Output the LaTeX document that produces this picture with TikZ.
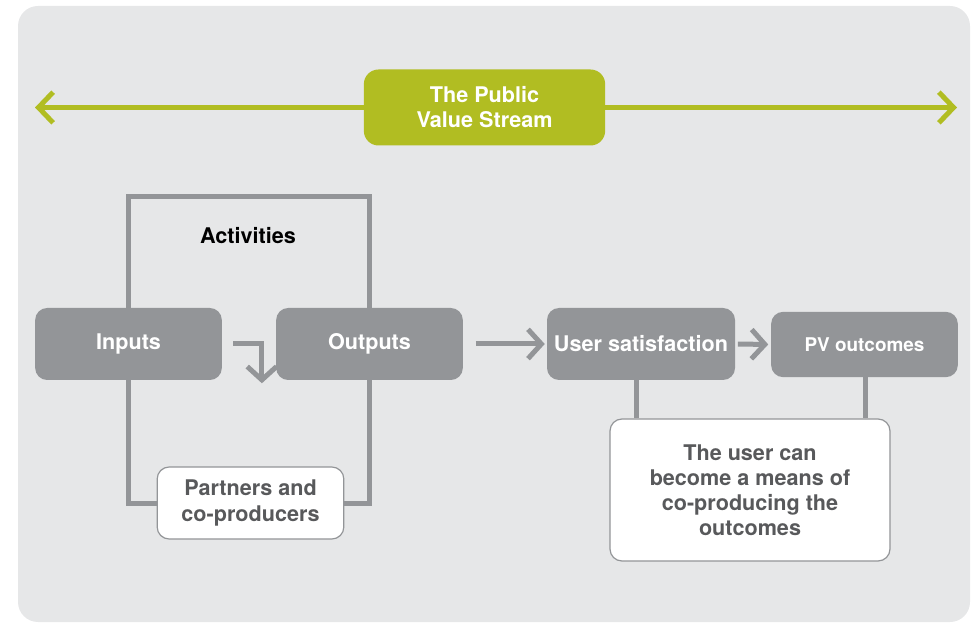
\documentclass[tikz,border=0pt]{standalone}
\usepackage{fontspec}
\setmainfont{TeX Gyre Heros}
\usetikzlibrary{arrows.meta,positioning}

\definecolor{pvgreen}{HTML}{B1BD22}
\definecolor{boxgray}{HTML}{939598}
\definecolor{panelgray}{HTML}{E6E7E8}
\definecolor{notetext}{HTML}{58595B}

\tikzset{
  lbl/.style={font=\bfseries\fontsize{16.2}{18.8}\selectfont,align=center},
  graybox/.style={lbl,fill=boxgray,text=white,rounded corners=9pt,
    minimum width=140pt,minimum height=54pt,inner sep=0pt},
  notebox/.style={lbl,fill=white,draw=boxgray,line width=0.9pt,text=notetext,
    rounded corners=9pt,inner sep=0pt},
  link/.style={draw=boxgray,line width=3.75pt},
  flow/.style={link,-{Straight Barb[length=10pt,width=22pt]}},
  stream/.style={draw=pvgreen,line width=3.75pt,-{Straight Barb[length=11pt,width=23pt]}},
}

\begin{document}
\begin{tikzpicture}[x=0.75pt,y=-0.75pt]
\useasboundingbox (0,0) rectangle (971,623);
\fill[panelgray,rounded corners=15pt] (18,6) rectangle (970,622);

% value stream
\node[lbl,fill=pvgreen,text=white,rounded corners=11pt,minimum width=181pt,
  minimum height=57pt,inner sep=0pt] (pvs) at (484.5,107.5) {The Public\\Value Stream};
\coordinate (streamL) at (35,107.5);
\coordinate (streamR) at (957,107.5);
\draw[stream] (pvs.west) -- (streamL);
\draw[stream] (pvs.east) -- (streamR);

% activities
\node[graybox] (inputs) at (128.5,344) {Inputs};
\node[graybox] (outputs) at (369.5,344) {Outputs};
\node[lbl,text=black] (act) at (248,236) {Activities};
\coordinate (acttop) at (248,197);
\draw[link] (inputs.north) |- (acttop) -| (outputs.north);
\node[notebox,minimum width=140pt,minimum height=54pt] (partners) at (250.5,503) {Partners and\\co-producers};
\draw[link] (inputs.south) |- (partners.west);
\draw[link] (outputs.south) |- (partners.east);
\coordinate (bendA) at ([xshift=8.25pt]inputs.east);
\coordinate (bendB) at ([xshift=-10.5pt,yshift=-2.25pt]outputs.south west);
\draw[flow] (bendA) -| (bendB);

% user side
\node[graybox,minimum width=141pt] (us) at (641,344) {User satisfaction};
\node[graybox,minimum height=49pt,font=\bfseries\fontsize{14.2}{17}\selectfont] (pv) at (864.5,344.5) {PV outcomes};
\draw[flow,shorten <=2pt,shorten >=1.5pt] ([xshift=7.5pt]outputs.east) -- (us.west);
\draw[flow,shorten <=2pt,shorten >=2pt] (us.east) -- (pv.west);
\node[notebox,minimum width=210pt,minimum height=106.5pt] (usercan) at (750,490)
  {The user can\\become a means of\\co-producing the\\outcomes};
\draw[link] ([xshift=-3.75pt]us.south) -- ([xshift=-3.75pt]us.south |- usercan.north);
\draw[link] ([xshift=1pt]pv.south) -- ([xshift=1pt]pv.south |- usercan.north);
\end{tikzpicture}
\end{document}
